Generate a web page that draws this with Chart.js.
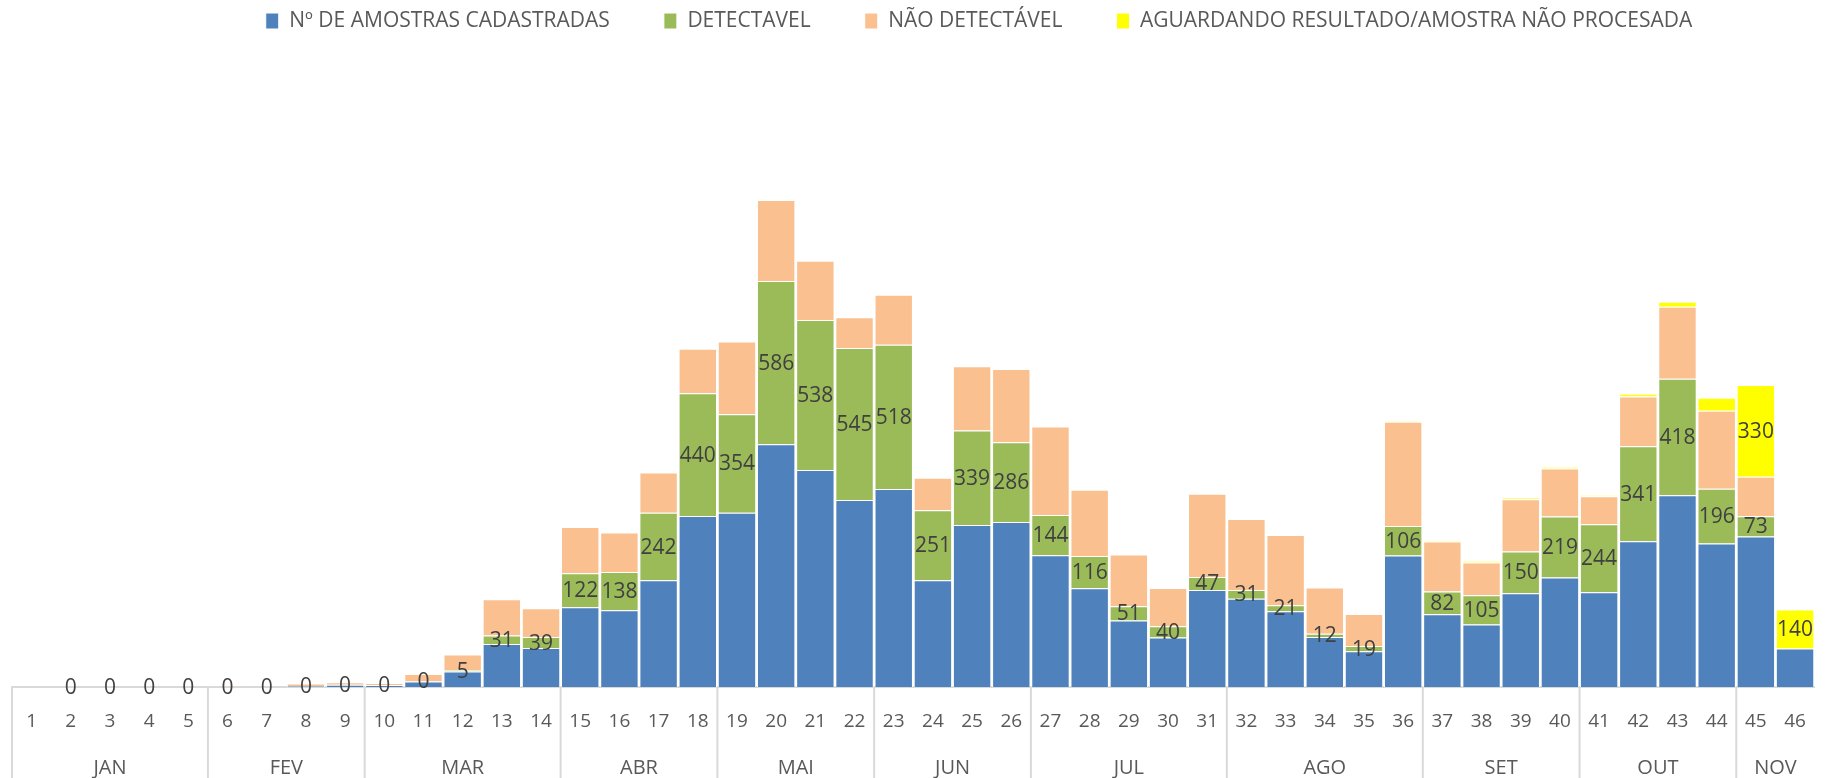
<!DOCTYPE html>
<html>
<head>
<meta charset="utf-8">
<script src="https://cdn.jsdelivr.net/npm/chart.js@4/dist/chart.umd.min.js"></script>
<style>
  html, body { margin: 0; padding: 0; background: #fff; }
  #wrap { width: 1829px; height: 778px; }
</style>
</head>
<body>
<div id="wrap"><canvas id="weekChart"></canvas></div>
<script>
// semanas epidemiologicas
const weeks = ["1","2","3","4","5","6","7","8","9","10","11","12","13","14","15","16","17","18","19","20","21","22","23","24","25","26","27","28","29","30","31","32","33","34","35","36","37","38","39","40","41","42","43","44","45","46"];
const monthNames = ["JAN","FEV","MAR","ABR","MAI","JUN","JUL","AGO","SET","OUT","NOV"];
const monthWeeks = [5, 4, 5, 4, 4, 4, 5, 5, 4, 4, 2];

const cadastradas = [0,0,0,0,0,0,0,4,8,7,20,56,154,140,286,275,383,614,625,871,779,671,710,383,581,592,473,354,239,178,348,317,272,179,128,472,261,224,336,393,340,523,688,515,540,138];
const detectavel = [null,0,0,0,0,0,0,0,0,0,0,5,31,39,122,138,242,440,354,586,538,545,518,251,339,286,144,116,51,40,47,31,21,12,19,106,82,105,150,219,244,341,418,196,73,null];
const naoDetectavel = [0,0,0,0,0,2,0,9,9,7,27,56,130,104,166,141,145,160,261,290,212,111,179,117,231,263,318,238,185,137,298,255,252,166,115,374,179,118,188,172,100,178,258,280,141,0];
const aguardando = [0,0,0,0,0,0,0,0,0,0,0,0,0,0,0,0,0,0,0,0,0,0,0,0,0,0,0,0,0,0,0,0,0,0,0,2,4,5,5,6,4,10,18,47,330,140];

Chart.defaults.font.family = '"Open Sans", sans-serif';

// eixo com meses + rotulos de dados
const monthAxis = {
  id: 'monthAxis',
  afterLayout(chart) {
    const lg = chart.legend;
    lg.left += 62; lg.right += 62;
    lg.top = -43.5;
  },
  afterDraw(chart) {
    const ctx = chart.ctx;
    const x = chart.scales.x;
    const base = chart.chartArea.bottom;
    const step = (x.right - x.left) / weeks.length;
    ctx.save();
    ctx.strokeStyle = '#d9d9d9';
    ctx.lineWidth = 2;
    ctx.fillStyle = '#595959';
    ctx.font = '20px "Open Sans"';
    ctx.textAlign = 'center';
    ctx.textBaseline = 'middle';
    let start = 0;
    monthNames.forEach((m, i) => {
      const x0 = x.left + start * step;
      const x1 = x0 + monthWeeks[i] * step;
      ctx.beginPath();
      ctx.moveTo(x0, base);
      ctx.lineTo(x0, chart.height);
      ctx.stroke();
      const w = ctx.measureText(m).width;
      const cx = Math.min((x0 + x1) / 2, chart.width - w / 2 - 3);
      ctx.fillText(m, cx, 768);
      start += monthWeeks[i];
    });

    ctx.fillStyle = '#404040';
    ctx.font = '21px "Open Sans"';
    [1, 3].forEach(di => {
      const meta = chart.getDatasetMeta(di);
      meta.data.forEach((bar, j) => {
        const v = chart.data.datasets[di].data[j];
        if (v == null) return;
        if (di === 3 && v < 100) return;
        ctx.fillText(v, bar.x, (bar.y + bar.base) / 2 + 1);
      });
    });
    ctx.restore();
  }
};

new Chart("weekChart", {
  type: "bar",
  data: {
    labels: weeks,
    datasets: [
      { label: "Nº DE AMOSTRAS CADASTRADAS", data: cadastradas, backgroundColor: "#4F81BD" },
      { label: "DETECTAVEL", data: detectavel, backgroundColor: "#9BBB59" },
      { label: "NÃO DETECTÁVEL", data: naoDetectavel, backgroundColor: "#FAC090" },
      { label: "AGUARDANDO RESULTADO/AMOSTRA NÃO PROCESADA", data: aguardando, backgroundColor: "#FFFF00" }
    ]
  },
  options: {
    responsive: true,
    maintainAspectRatio: false,
    animation: false,
    layout: { padding: { left: 12, right: 7, top: 0, bottom: 0 } },
    datasets: {
      bar: { categoryPercentage: 1, barPercentage: 0.98, borderColor: "#ffffff", borderWidth: 1 }
    },
    plugins: {
      legend: {
        position: 'top',
        labels: {
          color: '#595959',
          font: { size: 21 },
          boxWidth: 13,
          boxHeight: 16,
          padding: 54
        }
      },
      tooltip: { enabled: false }
    },
    scales: {
      x: {
        stacked: true,
        grid: { display: false, drawTicks: false },
        border: { color: '#d9d9d9', width: 2 },
        ticks: { color: '#595959', font: { size: 19 }, padding: 23, maxRotation: 0, autoSkip: false },
        afterFit(scale) { scale.height = 91; }
      },
      y: {
        stacked: true,
        display: false,
        min: 0,
        max: 2160
      }
    }
  },
  plugins: [monthAxis]
});
</script>
</body>
</html>
